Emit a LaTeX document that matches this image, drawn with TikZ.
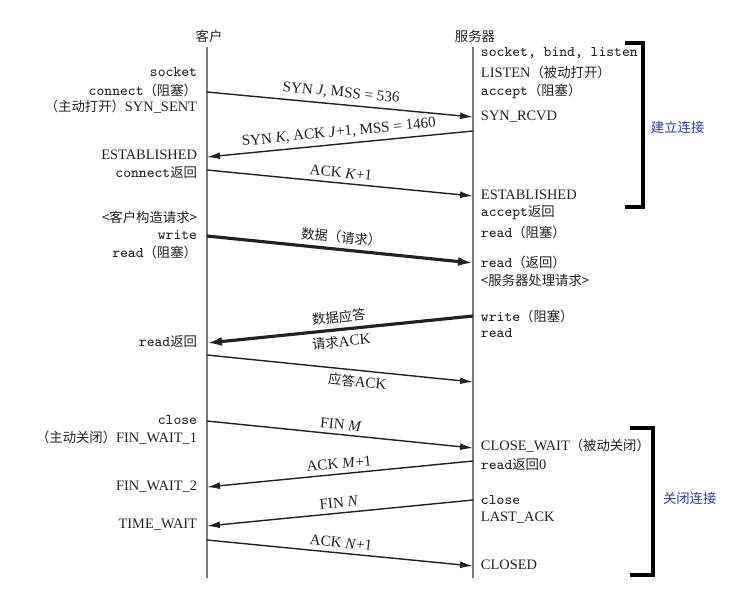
\documentclass[tikz,border=0pt]{standalone}
\usepackage{fontspec}
\setmainfont{Liberation Serif}
\newfontfamily\cjk{Noto Sans CJK SC}
\newcommand{\zh}[1]{{\cjk\fontsize{7.6}{9}\selectfont #1}}
\newcommand{\api}[1]{{\ttfamily\fontsize{8.4}{9}\selectfont #1}}
\usetikzlibrary{arrows.meta}
\definecolor{ink}{HTML}{222222}
\definecolor{life}{HTML}{7A7A7A}
\definecolor{note}{HTML}{2B3F99}
\tikzset{every node/.style={inner sep=1.5pt, text=ink, font=\fontsize{8.2}{9}\selectfont}}
\tikzset{cl/.style={anchor=east}}
\tikzset{sv/.style={anchor=west}}
\tikzset{tag/.style={sloped, inner sep=2.6pt, font=\fontsize{8.6}{9}\selectfont}}
\tikzset{msg/.style={draw=ink, line width=0.8pt, -{Latex[length=2.6mm,width=1.4mm]}}}
\tikzset{data msg/.style={msg, line width=1.8pt, -{Latex[length=3mm,width=1.8mm]}}}
\tikzset{bracket/.style={draw=black, line width=2.6pt}}
\tikzset{phase/.style={anchor=west, text=note}}

\begin{document}
\begin{tikzpicture}[x=0.02cm, y=-0.02cm]
  \useasboundingbox (0,0) rectangle (756,599);

  \node (client) at (209,36) {\zh{客户}};
  \node (server) at (475,36) {\zh{服务器}};
  \coordinate (ct) at (207,47);
  \coordinate (cb) at (207,578);
  \coordinate (st) at (473,47);
  \coordinate (sb) at (473,578);
  \draw[life, line width=1.1pt] (ct) -- (cb);
  \draw[life, line width=1.1pt] (st) -- (sb);

  \node (csock) [cl] at (200,72) {\api{socket}};
  \node (cconn) [cl] at (200,90) {\api{connect}\zh{（阻塞）}};
  \node (csent) [cl] at (200,107) {\zh{（主动打开）}SYN\_SENT};
  \node (cest) [cl] at (200,155) {ESTABLISHED};
  \node (cret) [cl] at (200,173) {\api{connect}\zh{返回}};
  \node (cbuild) [cl] at (200,217) {\zh{<客户构造请求>}};
  \node (cwrite) [cl] at (200,235) {\api{write}};
  \node (cread) [cl] at (200,252) {\api{read}\zh{（阻塞）}};
  \node (cback) [cl] at (200,342) {\api{read}\zh{返回}};
  \node (cclose) [cl] at (200,420) {\api{close}};
  \node (cfw1) [cl] at (200,438) {\zh{（主动关闭）}FIN\_WAIT\_1};
  \node (cfw2) [cl] at (200,487) {FIN\_WAIT\_2};
  \node (ctw) [cl] at (200,525) {TIME\_WAIT};

  \node (ssock) [sv] at (478,53) {\api{socket, bind, listen}};
  \node (slisten) [sv] at (478,72) {LISTEN\zh{（被动打开）}};
  \node (saccept) [sv] at (478,91) {\api{accept}\zh{（阻塞）}};
  \node (srcvd) [sv] at (478,117) {SYN\_RCVD};
  \node (sest) [sv] at (478,195) {ESTABLISHED};
  \node (sret) [sv] at (478,213) {\api{accept}\zh{返回}};
  \node (sread) [sv] at (478,232) {\api{read}\zh{（阻塞）}};
  \node (sgot) [sv] at (478,262) {\api{read}\zh{（返回）}};
  \node (swork) [sv] at (478,280) {\zh{<服务器处理请求>}};
  \node (swrite) [sv] at (478,316) {\api{write}\zh{（阻塞）}};
  \node (snext) [sv] at (478,333) {\api{read}};
  \node (scw) [sv] at (478,446) {CLOSE\_WAIT\zh{（被动关闭）}};
  \node (szero) [sv] at (478,465) {\api{read}\zh{返回}0};
  \node (sclose) [sv] at (478,500) {\api{close}};
  \node (slast) [sv] at (478,518) {LAST\_ACK};
  \node (sdone) [sv] at (478,565) {CLOSED};

  \coordinate (c1) at (207,92);   \coordinate (s1) at (473,117);
  \coordinate (s2) at (473,131);  \coordinate (c2) at (207,157);
  \coordinate (c3) at (207,170);  \coordinate (s3) at (473,196);
  \coordinate (c4) at (207,236);  \coordinate (s4) at (473,263);
  \coordinate (s5) at (473,316);  \coordinate (c5) at (207,343);
  \coordinate (c6) at (207,355);  \coordinate (s6) at (473,382);
  \coordinate (c7) at (207,421);  \coordinate (s7) at (473,448);
  \coordinate (s8) at (473,461);  \coordinate (c8) at (207,487);
  \coordinate (s9) at (473,500);  \coordinate (c9) at (207,526);
  \coordinate (c10) at (207,540); \coordinate (s10) at (473,566);

  \path (c1) edge[msg] node[tag, above] {SYN \textit{J}, MSS = 536} (s1);
  \path (s2) edge[msg] node[tag, above] {SYN \textit{K}, ACK \textit{J}+1, MSS = 1460} (c2);
  \path (c3) edge[msg] node[tag, above] {ACK \textit{K}+1} (s3);
  \path (c4) edge[data msg] node[tag, above] {\zh{数据（请求）}} (s4);
  \path (s5) edge[data msg] node[tag, above] {\zh{数据应答}}
                            node[tag, below] {\zh{请求}ACK} (c5);
  \path (c6) edge[msg] node[tag, below, pos=0.57] {\zh{应答}ACK} (s6);
  \path (c7) edge[msg] node[tag, above] {FIN \textit{M}} (s7);
  \path (s8) edge[msg] node[tag, above] {ACK \textit{M}+1} (c8);
  \path (s9) edge[msg] node[tag, above] {FIN \textit{N}} (c9);
  \path (c10) edge[msg] node[tag, above] {ACK \textit{N}+1} (s10);

  \draw[bracket] (625,43) -- (643,43) -- (643,207) -- (625,207);
  \draw[bracket] (630,428) -- (653,428) -- (653,575) -- (630,575);
  \node (open) [phase] at (648,127) {\zh{建立连接}};
  \node (shut) [phase] at (660,498) {\zh{关闭连接}};
\end{tikzpicture}
\end{document}
